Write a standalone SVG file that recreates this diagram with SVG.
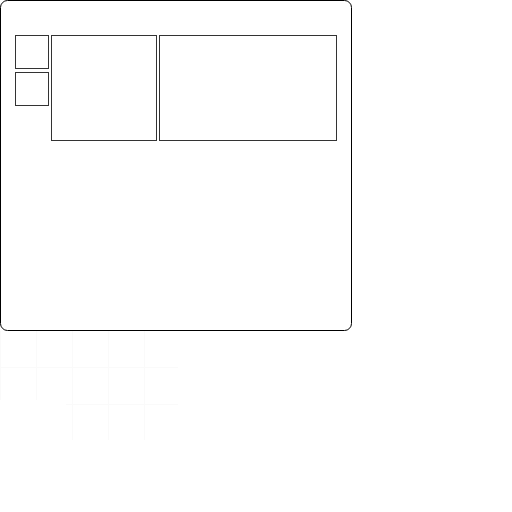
<svg xmlns="http://www.w3.org/2000/svg" width="512" height="512" viewBox="0 0 512 512">
<style>
.frame{fill:#fff;stroke:#000;stroke-width:1}
.box{fill:none;stroke:#333;stroke-width:1}
.faint{stroke:#fafafa;stroke-width:1;fill:none}
</style>
<rect width="512" height="512" fill="#fff"/>
<g id="faint-grid">
<path class="faint" d="M0.5 331V400M36.5 331V400M72.5 331V440M108.5 331V440M144.5 331V440M0 367.5H178M66 404.5H178"/>
</g>
<g id="frame"><rect class="frame" x="0.5" y="0.5" width="351" height="330" rx="7"/></g>
<g id="box1"><rect class="box" x="15.5" y="35.5" width="33" height="33"/></g>
<g id="box2"><rect class="box" x="15.5" y="72.5" width="33" height="33"/></g>
<g id="box3"><rect class="box" x="51.5" y="35.5" width="105" height="105"/></g>
<g id="box4"><rect class="box" x="159.5" y="35.5" width="177" height="105"/></g>
<g id="connectors"></g>
</svg>
